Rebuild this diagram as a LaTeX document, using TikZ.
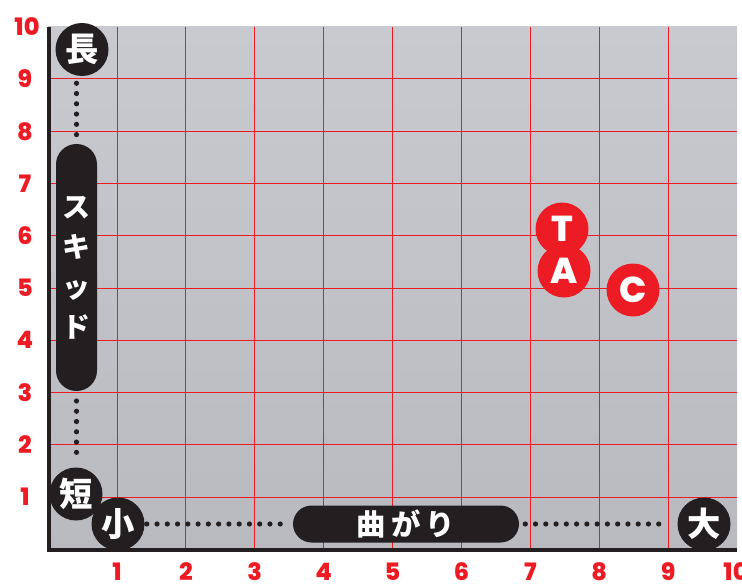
\documentclass[tikz,border=0pt]{standalone}
\usepackage{fontspec}
\IfFontExistsTF{Poppins ExtraBold}{\setmainfont{Poppins}[BoldFont={Poppins ExtraBold}]}{\setmainfont{Poppins}}
\IfFontExistsTF{Noto Sans CJK JP Black}{\newfontfamily\jpfont{Noto Sans CJK JP}[BoldFont={Noto Sans CJK JP Black}]}{\newfontfamily\jpfont{Noto Sans CJK JP}}
\usepackage{xcolor}
\definecolor{tacred}{RGB}{237,28,36}
\definecolor{inkblack}{RGB}{35,31,32}
\definecolor{metaltop}{RGB}{200,202,208}
\definecolor{metalbot}{RGB}{184,186,192}

\begin{document}
\begin{tikzpicture}[x=0.75pt,y=0.75pt,yscale=-1,xscale=1,
  gridline/.style={color=tacred, line width=0.75},
  axisline/.style={color=inkblack, line width=3},
  dotline/.style={color=inkblack, line width=3.9, line cap=round, dash pattern=on 0pt off 7.7pt},
  ticklabel/.style={text=tacred, inner sep=0pt, font=\bfseries\fontsize{18}{18}\selectfont},
  blackdot/.style={circle, fill=inkblack, text=white, minimum size=39.75pt, inner sep=0pt, font=\jpfont\bfseries\fontsize{25}{25}\selectfont},
  reddot/.style={circle, fill=tacred, text=white, minimum size=39.75pt, inner sep=0pt, font=\bfseries\fontsize{27}{27}\selectfont},
  pillbox/.style={fill=inkblack, text=white, inner sep=0pt, align=center, font=\jpfont\bfseries\fontsize{21}{30}\selectfont}]

\useasboundingbox (0,0) rectangle (742,588);

% metal plate
\shade [top color=metaltop, bottom color=metalbot] (48,27) rectangle (737,550);

% grid
\draw [gridline]   (117.0,27) -- (117.0,550) ;
\draw [gridline]   (185.9,27) -- (185.9,550) ;
\draw [gridline]   (254.8,27) -- (254.8,550) ;
\draw [gridline]   (323.7,27) -- (323.7,550) ;
\draw [gridline]   (392.6,27) -- (392.6,550) ;
\draw [gridline]   (461.5,27) -- (461.5,550) ;
\draw [gridline]   (530.4,27) -- (530.4,550) ;
\draw [gridline]   (599.3,27) -- (599.3,550) ;
\draw [gridline]   (668.2,27) -- (668.2,550) ;
\draw [gridline]   (48,497.0) -- (737,497.0) ;
\draw [gridline]   (48,444.75) -- (737,444.75) ;
\draw [gridline]   (48,392.5) -- (737,392.5) ;
\draw [gridline]   (48,340.25) -- (737,340.25) ;
\draw [gridline]   (48,288.0) -- (737,288.0) ;
\draw [gridline]   (48,235.75) -- (737,235.75) ;
\draw [gridline]   (48,183.5) -- (737,183.5) ;
\draw [gridline]   (48,131.25) -- (737,131.25) ;
\draw [gridline]   (48,79.0) -- (737,79.0) ;

% axes
\draw [axisline]   (48.5,27) -- (48.5,550) -- (737,550) ;

% tick labels
\draw (25,497.0) node [ticklabel] (ly1) {1};
\draw (25,444.75) node [ticklabel] (ly2) {2};
\draw (25,392.5) node [ticklabel] (ly3) {3};
\draw (25,340.25) node [ticklabel] (ly4) {4};
\draw (25,288.0) node [ticklabel] (ly5) {5};
\draw (25,235.75) node [ticklabel] (ly6) {6};
\draw (25,183.5) node [ticklabel] (ly7) {7};
\draw (25,131.25) node [ticklabel] (ly8) {8};
\draw (25,79.0) node [ticklabel] (ly9) {9};
\draw (27,26.5) node [ticklabel] (ly10) {10};
\draw (117.0,572) node [ticklabel] (lx1) {1};
\draw (185.9,572) node [ticklabel] (lx2) {2};
\draw (254.8,572) node [ticklabel] (lx3) {3};
\draw (323.7,572) node [ticklabel] (lx4) {4};
\draw (392.6,572) node [ticklabel] (lx5) {5};
\draw (461.5,572) node [ticklabel] (lx6) {6};
\draw (530.4,572) node [ticklabel] (lx7) {7};
\draw (599.3,572) node [ticklabel] (lx8) {8};
\draw (668.2,572) node [ticklabel] (lx9) {9};
\draw (736,572) node [ticklabel] (lx10) {10};

% axis badges
\draw (82,49.5) node [blackdot] (naga) {長};
\draw (76.5,267.5) node [pillbox, minimum width=30.75pt, minimum height=185.25pt, rounded corners=15.3pt] (skid) {ス\\キ\\ッ\\ド};
\draw (76,494) node [blackdot] (tan) {短};
\draw (118,524) node [blackdot] (small) {小};
\draw (406,524) node [pillbox, minimum width=169.5pt, minimum height=27.75pt, rounded corners=13.9pt, font=\jpfont\bfseries\fontsize{22}{22}\selectfont] (bend) {曲\hspace{4pt}が\hspace{4pt}り};
\draw (704,524) node [blackdot] (dai) {大};

\draw [dotline, shorten <=5.25pt, shorten >=6.75pt]   (naga.south -| skid.north) -- (skid.north) ;
\draw [dotline, shorten <=7.3pt, shorten >=4.7pt]   (skid.south) -- (skid.south |- tan.north) ;
\draw [dotline, shorten <=1.5pt, shorten >=2.25pt]   (small) -- (bend) ;
\draw [dotline, shorten <=4.5pt, shorten >=7.5pt]   (bend) -- (dai) ;

% T A C
\draw (562,229) node [reddot] (tee) {T};
\draw (564,271) node [reddot] (ay) {A};
\draw (633,290) node [reddot] (cee) {C};

\end{tikzpicture}
\end{document}
